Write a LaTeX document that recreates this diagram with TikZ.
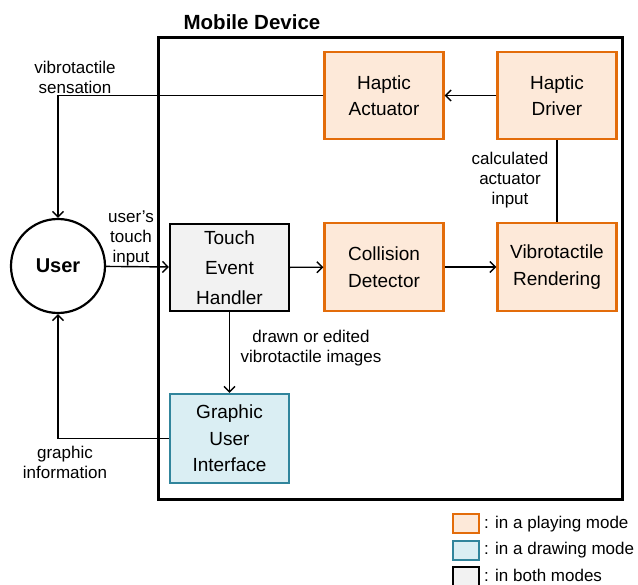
\documentclass[tikz,border=0pt]{standalone}
\usepackage{fontspec}
\setmainfont{Liberation Sans}
\usetikzlibrary{arrows.meta}
\definecolor{playline}{HTML}{E36C0A}
\definecolor{playfill}{HTML}{FDE9D9}
\definecolor{drawline}{HTML}{31859C}
\definecolor{drawfill}{HTML}{DAEEF3}
\definecolor{bothfill}{HTML}{F2F2F2}
\begin{document}
\begin{tikzpicture}[x=1pt, y=-1pt,
    block/.style={draw, line width=2.2pt, minimum width=119pt, minimum height=87pt, inner sep=0pt, align=center, font=\fontsize{19}{26.5}\selectfont},
    playing/.style={block, draw=playline, fill=playfill},
    drawing/.style={block, draw=drawline, fill=drawfill},
    both/.style={block, draw=black, fill=bothfill},
    lbl/.style={inner sep=0pt, align=center, font=\fontsize{17}{20}\selectfont},
    flow/.style={line width=1.4pt, -{Straight Barb[length=5.5pt, width=11pt]}},
    keybox/.style={draw, line width=2pt, minimum width=26pt, minimum height=19pt, inner sep=0pt}]
    \useasboundingbox (0, 0) rectangle (638, 585);
    \draw[line width=3pt] (158, 38) rectangle (622, 500);
    \node[font=\fontsize{20.5}{24}\selectfont\bfseries] at (252, 22) (title) {Mobile Device};
    \node[draw, circle, line width=2.2pt, minimum size=94pt, inner sep=0pt, font=\fontsize{20}{24}\selectfont\bfseries] at (58, 266) (user) {User};
    \node[playing] at (384, 95.5) (act) {Haptic\\Actuator};
    \node[playing] at (557, 95.5) (drv) {Haptic\\Driver};
    \node[playing, minimum height=88pt] at (384, 267) (col) {Collision\\Detector};
    \node[playing, minimum height=88pt] at (557, 267) (ren) {Vibrotactile\\Rendering};
    \node[both, font=\fontsize{19}{30}\selectfont] at (229.5, 267.5) (teh) {Touch\\Event\\Handler};
    \node[drawing, minimum height=89pt] at (229.5, 438.5) (gui) {Graphic\\User\\Interface};
    \draw[flow] (drv) -- (act);
    \draw[flow] (act.west) -| (user.north);
    \draw[flow] (user) -- (teh);
    \draw[flow] (teh) -- (col);
    \draw[flow] (col) -- (ren);
    \draw[line width=1.4pt] (ren) -- (drv);
    \draw[flow] (teh) -- (gui);
    \draw[flow] (gui.west) -| (user.south);
    \node[lbl] at (75, 77) (sens) {vibrotactile\\sensation};
    \node[lbl] at (131, 238) (touch) {user’s\\touch\\input};
    \node[lbl] at (510, 180) (calc) {calculated\\actuator\\input};
    \node[lbl] at (311, 348.5) (edit) {drawn or edited\\vibrotactile images};
    \node[lbl] at (65, 462) (info) {graphic\\information};
    % legend
    \node[keybox, draw=playline, fill=playfill] at (465.5, 524) (key1) {};
    \node[keybox, draw=drawline, fill=drawfill] at (465.5, 550.5) (key2) {};
    \node[keybox, draw=black, fill=bothfill] at (465.5, 576) (key3) {};
    \node[lbl, anchor=west] at (484, 524) (txt1) {: in a playing mode};
    \node[lbl, anchor=west] at (484, 550.5) (txt2) {: in a drawing mode};
    \node[lbl, anchor=west] at (484, 575) (txt3) {: in both modes};
\end{tikzpicture}
\end{document}
